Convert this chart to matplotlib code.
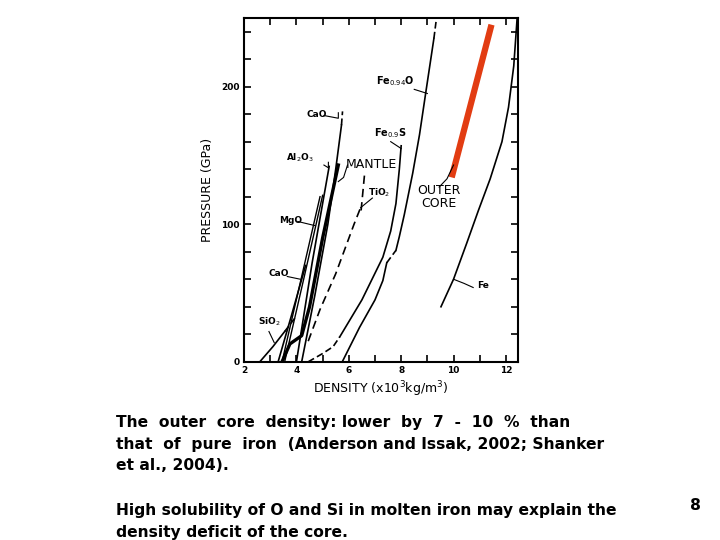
import numpy as np
import matplotlib
matplotlib.use('Agg')
import matplotlib.pyplot as plt

# curves (density in 10^3 kg/m^3, pressure in GPa)
sio2_x = [2.6, 3.1, 3.55]
sio2_y = [0, 11, 22]
sio2_dash_x = [3.55, 3.75, 3.95]
sio2_dash_y = [22, 27, 32]

cao_low_x = [3.3, 3.8, 4.35]
cao_low_y = [0, 33, 70]

mgo_a_x = [3.45, 4.2, 4.9]
mgo_a_y = [0, 62, 120]
mgo_b_x = [3.55, 4.3, 5.0]
mgo_b_y = [0, 62, 121]

al2o3_x = [4.0, 4.6, 5.25]
al2o3_y = [0, 72, 142]

mantle_x = [3.45, 3.75, 4.2, 4.5, 5.0, 5.6]
mantle_y = [0, 13, 19, 40, 90, 143]

cao_up_x = [4.2, 4.7, 5.2, 5.5, 5.72]
cao_up_y = [0, 48, 100, 140, 172]
cao_up_dash_x = [5.72, 5.76]
cao_up_dash_y = [172, 182]

tio2_x = [4.45, 4.9, 5.5, 6.2, 6.45]
tio2_y = [15, 38, 64, 100, 112]
tio2_top_x = [6.47, 6.6]
tio2_top_y = [110, 136]

fes_dash_x = [4.45, 5.0, 5.4, 5.65]
fes_dash_y = [0, 6, 11, 18]
fes_x = [5.65, 6.5, 7.3, 7.6, 7.8, 7.93, 8.0]
fes_y = [18, 45, 76, 95, 115, 140, 157]

feo_x = [5.75, 6.41, 7.0, 7.3, 7.45]
feo_y = [0, 25, 45, 59, 72]
feo_kink_x = [7.45, 7.8]
feo_kink_y = [72, 81]
feo2_x = [7.8, 7.93, 8.12, 8.44, 8.7, 8.95, 9.25]
feo2_y = [81, 91, 107, 137, 165, 197, 235]
feo_top_x = [9.25, 9.35]
feo_top_y = [235, 250]

fe_x = [9.52, 10.0, 10.5, 10.95, 11.4, 11.85, 12.1, 12.3, 12.43]
fe_y = [40, 60, 86, 110, 133, 160, 185, 215, 250]

core_x = [9.93, 11.45]
core_y = [134, 245]

xticks = [2, 4, 6, 8, 10, 12]
yticks = [0, 100, 200]

lines1 = [
	'The  outer  core  density: lower  by  7  -  10  %  than',
	'that  of  pure  iron  (Anderson and Issak, 2002; Shanker',
	'et al., 2004).',
]
lines2 = [
	'High solubility of O and Si in molten iron may explain the',
	'density deficit of the core.',
]

fig = plt.figure(figsize=(7.2, 5.4), dpi=100)
ax = fig.add_axes([0.339, 0.330, 0.380, 0.637])

k = dict(color='black', lw=1.2)
ax.plot(sio2_x, sio2_y, **k)
ax.plot(sio2_dash_x, sio2_dash_y, ls=(0, (4, 2)), **k)
ax.plot(cao_low_x, cao_low_y, **k)
ax.plot(mgo_a_x, mgo_a_y, color='black', lw=1.0)
ax.plot(mgo_b_x, mgo_b_y, color='black', lw=1.0)
ax.plot(al2o3_x, al2o3_y, **k)
ax.plot(mantle_x, mantle_y, color='black', lw=2.4)
ax.plot(cao_up_x, cao_up_y, **k)
ax.plot(cao_up_dash_x, cao_up_dash_y, ls=(0, (4, 2)), **k)
ax.plot(tio2_x, tio2_y, ls=(0, (5, 3)), **k)
ax.plot(tio2_top_x, tio2_top_y, ls=(0, (5, 3)), **k)
ax.plot(fes_dash_x, fes_dash_y, ls=(0, (4, 2)), **k)
ax.plot(fes_x, fes_y, **k)
ax.plot(feo_x, feo_y, **k)
ax.plot(feo_kink_x, feo_kink_y, ls=(0, (4, 2)), **k)
ax.plot(feo2_x, feo2_y, **k)
ax.plot(feo_top_x, feo_top_y, ls=(0, (4, 2)), **k)
ax.plot(fe_x, fe_y, **k)
ax.plot(core_x, core_y, color='#e23c12', lw=4.5, solid_capstyle='butt')

# labels and leaders
t = dict(fontsize=6.5, fontweight='bold', color='black')
ax.text(2.55, 27, 'SiO$_2$', **t)
ax.plot([2.95, 3.15], [22, 14], color='black', lw=0.8)
ax.text(2.95, 62, 'CaO', **t)
ax.plot([3.65, 4.15], [62, 60], color='black', lw=0.8)
ax.text(3.35, 101, 'MgO', **t)
ax.plot([4.05, 4.7], [102, 99], color='black', lw=0.8)
ax.text(3.6, 146, 'Al$_2$O$_3$', **t)
ax.plot([5.05, 5.22, 5.22], [143, 141, 145], color='black', lw=0.8)
ax.text(4.4, 178, 'CaO', **t)
ax.plot([5.05, 5.6, 5.6], [179, 177, 181], color='black', lw=0.8)
ax.text(5.9, 141, 'MANTLE', fontsize=9, color='black')
ax.plot([5.6, 5.8, 5.95], [131, 134, 143], color='black', lw=0.8)
ax.text(6.75, 121, 'TiO$_2$', **t)
ax.plot([6.45, 6.9], [112, 119], color='black', lw=0.8)
ax.text(6.95, 164, 'Fe$_{0.9}$S', fontsize=7, fontweight='bold')
ax.plot([7.6, 8.0], [160, 155], color='black', lw=0.8)
ax.text(7.05, 202, 'Fe$_{0.94}$O', fontsize=7, fontweight='bold')
ax.plot([8.5, 9.0], [198, 195], color='black', lw=0.8)
ax.text(9.45, 120, 'OUTER\nCORE', fontsize=9, ha='center', va='center', linespacing=1.0)
ax.plot([9.45, 9.75, 10.0], [127, 133, 143], color='black', lw=0.8)
ax.text(10.9, 54, 'Fe', **t)
ax.plot([10.0, 10.4, 10.75], [60, 57, 54], color='black', lw=0.8)

ax.set_xlim(2, 12.45)
ax.set_ylim(0, 250)
ax.set_xticks(xticks)
ax.set_xticks(np.arange(3, 13, 2), minor=True)
ax.set_yticks(yticks)
ax.set_yticks(np.arange(20, 250, 20), minor=True)
ax.set_xticklabels([str(v) for v in xticks], fontsize=6.5, fontweight='bold')
ax.set_yticklabels([str(v) for v in yticks], fontsize=6.5, fontweight='bold')
ax.tick_params(which='both', direction='in', top=True, right=True, length=5, width=1.2, pad=3)
for s in ax.spines.values():
	s.set_linewidth(1.5)
ax.set_xlabel('DENSITY (x10$^3$kg/m$^3$)', fontsize=9, labelpad=3)
ax.set_ylabel('PRESSURE (GPa)', fontsize=9, labelpad=5)

# slide text
f = dict(fontsize=11.2, fontweight='bold', family='DejaVu Sans', color='black', va='center')
for i, s in enumerate(lines1):
	fig.text(116/720, 1-(423+21*i)/540, s, **f)
for i, s in enumerate(lines2):
	fig.text(116/720, 1-(510+22*i)/540, s, **f)
fig.text(690/720, 1-505/540, '8', **f)

fig.savefig('out.png', dpi=100)
